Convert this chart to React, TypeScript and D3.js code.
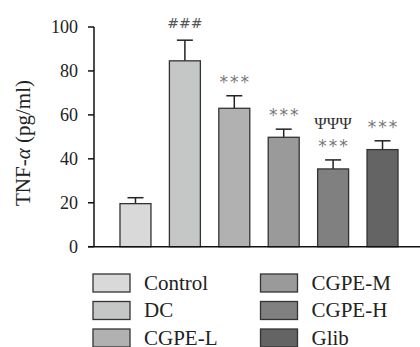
import React from 'react';
import * as d3 from 'd3';

// groups and TNF-alpha means / SEM
const groups = ['Control', 'DC', 'CGPE-L', 'CGPE-M', 'CGPE-H', 'Glib'];
const means = [19.6, 84.6, 63.0, 49.8, 35.4, 44.2];
const errors = [2.7, 9.4, 5.7, 3.7, 4.1, 4.0];
const stars = ['', '###', '***', '***', '***', '***'];
const psi = ['', '', '', '', 'ΨΨΨ', ''];
const yTicks = [0, 20, 40, 60, 80, 100];
const fills = ['#d9d9d9', '#c5c7c6', '#b1b1b1', '#9a9a9a', '#808080', '#646464'];

const W = 420;
const H = 347;
const serif = 'Liberation Serif';
const sans = 'DejaVu Sans';

export default function App() {
  const y = d3.scaleLinear().domain([0, 100]).range([246.7, 27]);
  const x = d3.scaleBand<string>()
    .domain(groups)
    .range([94, 424])
    .paddingInner(0.373)
    .paddingOuter(0.526);
  const bw = x.bandwidth();
  const cap = 8;

  // legend: two columns of three
  const legendCols = [93, 260.5];
  const legendRows = [274, 301.5, 329];

  return (
    <svg width={W} height={H} style={{ position: 'absolute', left: 0, top: 0, background: '#fff' }}>
      {/* bars */}
      {groups.map((g, i) => {
        const x0 = x(g) as number;
        const cx = x0 + bw / 2;
        const top = y(means[i]);
        const eTop = y(means[i] + errors[i]);
        return (
          <g key={g}>
            <line x1={cx} x2={cx} y1={top} y2={eTop} stroke="#222" strokeWidth={1.5} />
            <line x1={cx - cap} x2={cx + cap} y1={eTop} y2={eTop} stroke="#222" strokeWidth={1.5} />
            <rect x={x0} y={top} width={bw} height={y(0) - top} fill={fills[i]} stroke="#333" strokeWidth={1.3} />
            {stars[i] === '###' && (
              <text x={cx} y={eTop - 12} textAnchor="middle" style={{ fontFamily: sans, fontSize: 14 }} fill="#555">{stars[i]}</text>
            )}
            {stars[i] === '***' && (
              <text x={cx + 1} y={eTop - 8} textAnchor="middle" style={{ fontFamily: sans, fontSize: 17, letterSpacing: 2 }} fill="#777">{stars[i]}</text>
            )}
            {psi[i] && (
              <text x={cx} y={eTop - 31} textAnchor="middle" style={{ fontFamily: serif, fontSize: 17 }} fill="#333">{psi[i]}</text>
            )}
          </g>
        );
      })}

      {/* axes */}
      <line x1={94} x2={94} y1={y(100)} y2={y(0)} stroke="#111" strokeWidth={1.5} />
      <line x1={88} x2={W} y1={y(0)} y2={y(0)} stroke="#111" strokeWidth={1.5} />
      {yTicks.map(t => (
        <g key={t}>
          <line x1={88} x2={94} y1={y(t)} y2={y(t)} stroke="#111" strokeWidth={1.5} />
          <text x={78} y={y(t)} dy="0.35em" textAnchor="end" style={{ fontFamily: serif, fontSize: 18 }} fill="#222">{t}</text>
        </g>
      ))}
      <text transform="translate(30,143) rotate(-90)" textAnchor="middle" style={{ fontFamily: serif, fontSize: 21 }} fill="#222">
        TNF-<tspan fontStyle="italic">α</tspan> (pg/ml)
      </text>

      {/* legend */}
      {groups.map((g, i) => {
        const lx = legendCols[Math.floor(i / 3)];
        const ly = legendRows[i % 3];
        return (
          <g key={'lg' + g}>
            <rect x={lx} y={ly} width={37} height={18} fill={fills[i]} stroke="#333" strokeWidth={1.3} />
            <text x={lx + 51} y={ly + 15.5} style={{ fontFamily: serif, fontSize: 21 }} fill="#222">{g}</text>
          </g>
        );
      })}
    </svg>
  );
}
